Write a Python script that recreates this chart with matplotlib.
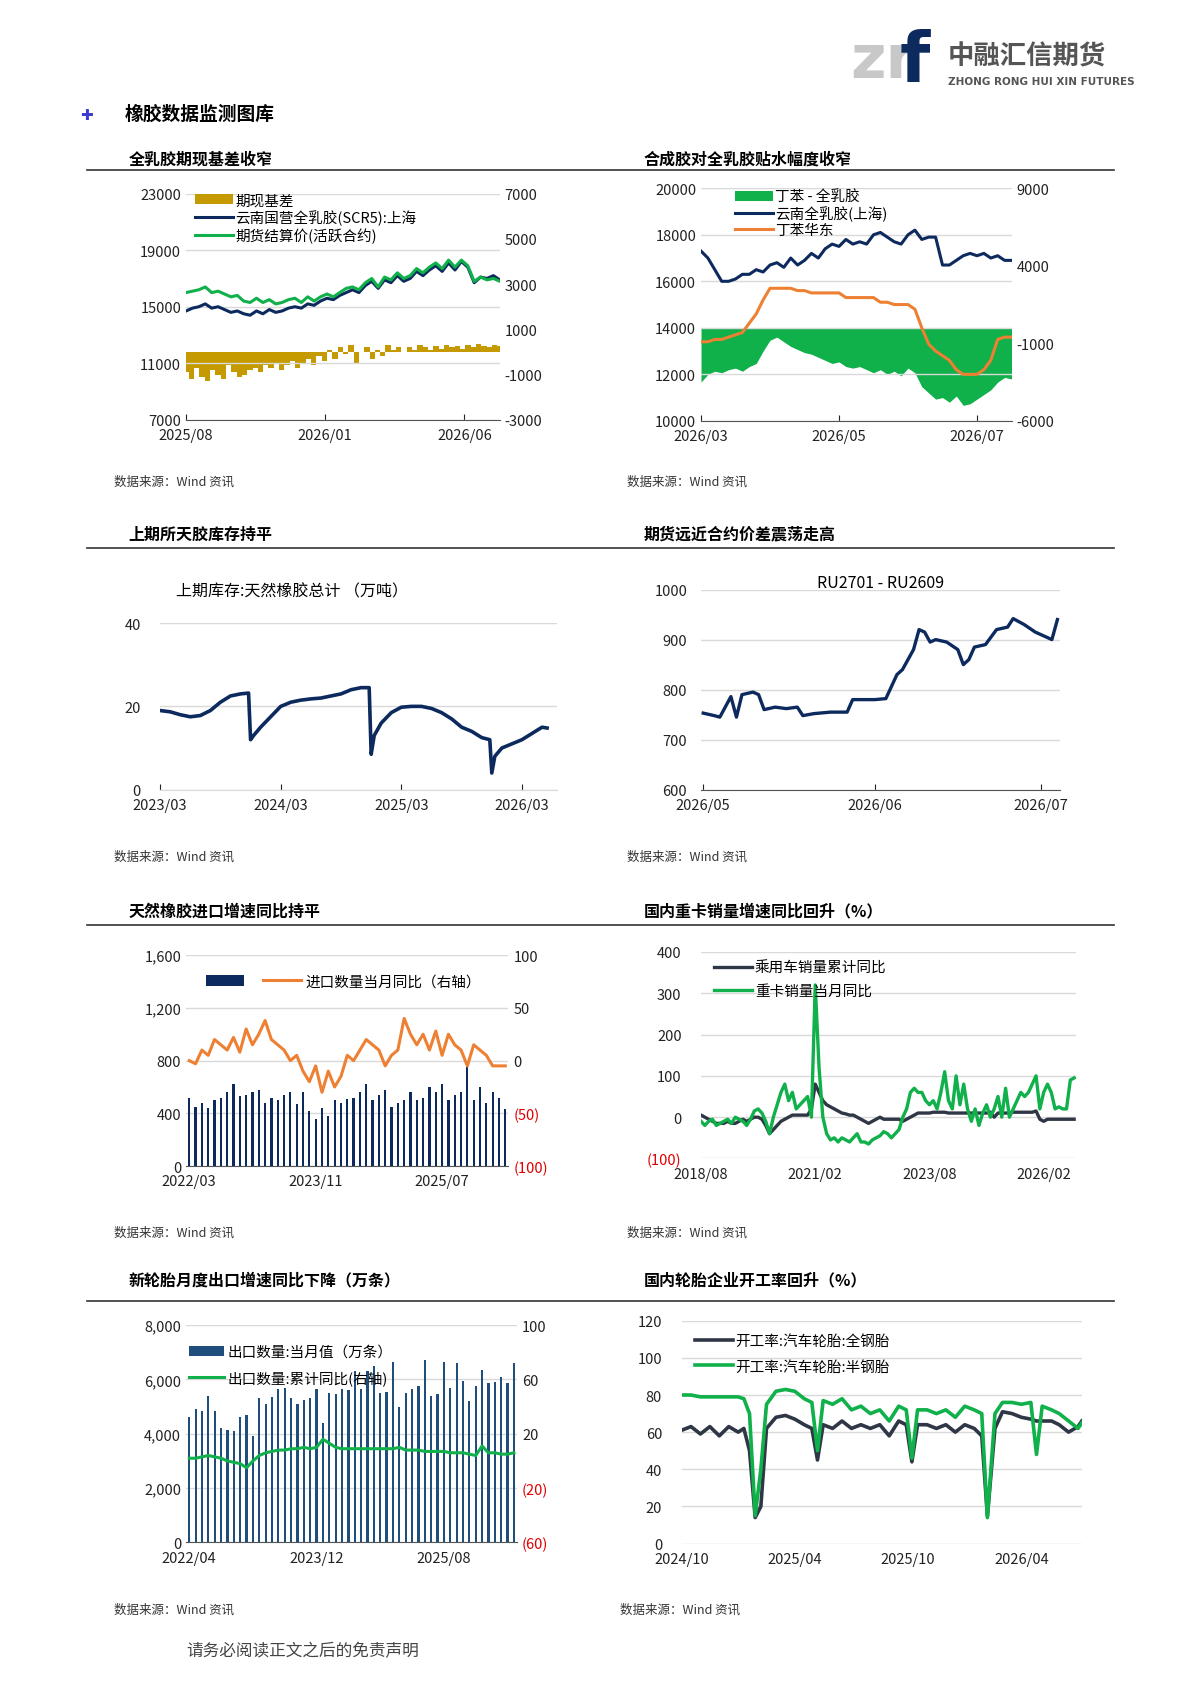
import numpy as np
import matplotlib
matplotlib.use("Agg")
import matplotlib.pyplot as plt
from matplotlib.ticker import FuncFormatter

plt.rcParams['font.family'] = ['Noto Sans CJK SC', 'DejaVu Sans']
plt.rcParams['axes.unicode_minus'] = False

NAVY = '#0d2a5e'; GREEN = '#10b04a'; GOLD = '#c49a00'; ORANGE = '#ee8033'; DARK = '#2f3645'; BAR = '#1f4e7d'

# ---------- data ----------
c1_scr5 = [14700,14900,15000,15200,14900,15000,14800,14600,14700,14500,14400,14700,14500,14800,14600,14700,14900,15000,14900,15200,15100,15400,15600,15500,15800,16000,16200,16000,16500,16800,16300,16900,16700,17200,16800,17000,17500,17200,17600,17900,17500,18100,17600,18200,17800,16700,17100,17000,17200,16900]
c1_fut = [16000,16100,16200,16400,16000,16100,15900,15700,15800,15400,15300,15600,15300,15500,15200,15300,15500,15600,15300,15700,15400,15700,15900,15700,16000,16300,16400,16200,16700,17000,16400,17100,16900,17400,17000,17200,17700,17400,17800,18100,17700,18300,17800,18300,17900,16800,17100,16900,17000,16800]
c1_basis = [-900,-1200,-700,-1100,-1300,-800,-1000,-1200,-600,-900,-1100,-1000,-800,-700,-900,-600,-700,-500,-800,-600,-400,-700,-500,-300,-600,-200,-400,100,-300,200,-100,300,-500,0,200,-300,100,-200,300,100,200,0,200,100,300,200,100,250,150,300,200,250,150,300,200,350,250,200,300,250]
c1_ticks = ['2025/08', '2026/01', '2026/06']

c2_blue = [17300,17000,16500,16000,16000,16100,16300,16300,16500,16400,16700,16800,16600,17000,16700,16900,17200,17000,17400,17600,17500,17800,17600,17700,17600,18000,18100,17900,17700,17600,18000,18200,17800,17900,17900,16700,16700,16900,17100,17200,17100,17200,17000,17100,16900,16900]
c2_orange = [13400,13400,13500,13500,13600,13700,13800,14200,14600,15200,15700,15700,15700,15700,15600,15600,15500,15500,15500,15500,15500,15300,15300,15300,15300,15300,15100,15100,15000,15000,15000,14800,14000,13300,13000,12800,12600,12200,12000,12000,12000,12200,12600,13500,13600,13600]
c2_spread = [-3500,-3000,-2800,-2900,-2700,-2600,-2800,-2500,-2300,-1500,-800,-600,-900,-1200,-1400,-1600,-1700,-1900,-2100,-2300,-2200,-2500,-2600,-2500,-2700,-2900,-2700,-3000,-2800,-3100,-2600,-2900,-3800,-4200,-4600,-4500,-4800,-4400,-5000,-4900,-4600,-4300,-4000,-3500,-3200,-3300]
c2_ticks = ['2026/03', '2026/05', '2026/07']

c3_month = [0,1,2,3,4,5,6,7,8,8.8,9.0,9.3,10,11,12,13,14,15,16,17,18,19,20,20.8,21.0,21.3,22,23,24,25,26,27,28,29,30,31,32,32.8,33.0,33.3,34,35,36,37,38,38.5]
c3_stock = [19,18.7,18,17.5,17.8,19,21,22.5,23,23.2,12,13,15,17.5,20,21,21.5,21.8,22,22.5,23,24,24.5,24.5,8.5,13,16,18.5,19.8,20,20,19.5,18.5,17,15,14,12.5,12,4,8,10,11,12,13.5,15,14.8]
c3_ticks = ['2023/03', '2024/03', '2025/03', '2026/03']

c4_day = [0,2,3,5,6,7,9,10,11,13,15,17,18,20,23,26,27,31,33,35,36,38,39,40,41,42,44,46,47,48,49,51,53,55,56,58,60,62,63,64]
c4_spread = [753,748,745,786,745,790,795,790,760,765,762,765,748,752,755,755,780,780,782,830,840,880,920,915,895,900,895,880,850,860,885,890,920,925,942,930,915,905,900,940]
c4_ticks = ['2026/05', '2026/06', '2026/07']

c5_import = [520,450,480,440,500,520,560,620,530,540,560,580,480,520,500,540,560,470,560,420,360,440,380,500,480,510,520,560,620,500,540,580,450,480,500,560,500,520,600,560,620,500,540,560,750,500,600,480,560,520,430]
c5_yoy = [0,-3,10,5,20,15,10,22,8,30,15,25,38,20,15,10,0,5,-10,-20,-5,-30,-10,-25,-15,5,0,10,20,15,10,-5,5,10,40,25,15,25,10,28,5,25,15,10,-5,15,10,5,-5,-5,-5]
c5_ticks = ['2022/03', '2023/11', '2025/07']

c6_car = [5,0,-5,-10,-15,-15,-15,-10,-15,-15,-10,-5,-10,-5,0,0,-5,
          -20,-40,-30,-20,-10,-5,0,5,5,5,5,5,
          20,80,60,40,30,25,20,15,10,8,5,5,
          0,-5,-10,-15,-10,-5,0,-5,-5,-5,-5,-5,
          -10,-5,0,5,10,10,10,10,12,12,12,12,
          10,10,10,10,10,10,10,10,10,10,10,12,
          0,10,10,10,10,12,12,12,12,12,12,15,
          -5,-10,-5,-5,-5,-5,-5,-5,-5,-5]
c6_truck = [-10,-20,-10,-5,-20,-15,-10,-5,-15,0,-5,-10,-20,-5,15,20,10,
            -10,-40,0,30,60,80,40,60,20,30,40,50,
            0,320,120,0,-40,-55,-50,-60,-50,-55,-60,-50,
            -40,-60,-60,-65,-55,-50,-45,-35,-40,-50,-40,-30,
            0,20,60,70,60,60,40,30,40,20,60,110,
            40,20,100,30,80,20,-10,20,-20,10,30,0,
            20,50,0,70,0,20,40,60,50,60,80,100,
            20,60,80,60,20,25,20,20,90,95]
c6_ticks = ['2018/08', '2021/02', '2023/08', '2026/02']

c7_export = [4600,4900,4850,5400,4850,4200,4150,4100,4600,4700,3900,5300,5100,5350,5650,5700,5300,5100,5250,5300,5650,4400,5500,5450,5650,5600,6300,5650,6300,6500,5500,5550,6650,5000,5500,5650,5750,6700,5400,5450,6650,5700,6600,5950,5200,5750,6350,5850,5900,6100,5850,6600]
c7_yoy = [2,2,3,4,3,2,0,-1,-2,-5,0,4,6,7,8,8,9,9,10,9,10,16,13,10,9,9,9,9,9,9,9,9,9,10,8,8,8,7,7,7,7,6,6,6,5,4,11,6,6,5,5,6]
c7_ticks = ['2022/04', '2023/12', '2025/08']

c8_month = [0,0.5,1,1.5,2,2.5,3,3.3,3.6,3.9,4.2,4.5,5,5.5,6,6.5,6.9,7.2,7.5,8,8.5,9,9.5,10,10.5,11,11.5,11.9,12.2,12.5,13,13.5,14,14.5,15,15.5,15.9,16.2,16.6,17,17.5,18,18.5,18.8,19.1,19.6,20,20.5,21,21.2]
c8_semi = [80,80,79,79,79,79,79,78,70,15,40,75,82,83,82,78,76,50,77,75,78,72,74,70,72,66,74,72,46,72,72,70,72,68,74,72,70,14,70,76,76,75,76,48,74,72,70,66,62,65]
c8_full = [61,63,59,63,58,63,60,62,50,14,20,62,68,69,67,64,62,45,64,62,66,62,64,62,64,58,66,64,44,64,64,62,64,60,64,62,58,15,62,71,70,68,67,66,66,66,64,60,63,66]
c8_ticks = ['2024/10', '2025/04', '2025/10', '2026/04']

# ---------- layout helpers ----------
W, H = 1100, 1556
fig = plt.figure(figsize=(11.9, 16.83), dpi=100)

def box(x0, y0, x1, y1):
    return fig.add_axes([x0 / W, 1 - y1 / H, (x1 - x0) / W, (y1 - y0) / H])

def txt(x, y, s, **kw):
    fig.text(x / W, 1 - y / H, s, **kw)

def style(ax, grid=True):
    for s in ['top', 'right', 'left']:
        ax.spines[s].set_visible(False)
    ax.spines['bottom'].set_color('#555555')
    ax.tick_params(axis='both', labelsize=10.5, length=0, colors='#222222')
    ax.tick_params(axis='x', length=4, direction='in', pad=6)
    if grid:
        ax.yaxis.grid(True, color='#d9d9d9', lw=1)
    ax.set_axisbelow(True)

def rstyle(ax):
    for s in ax.spines.values():
        s.set_visible(False)
    ax.tick_params(axis='y', labelsize=10.5, length=0, colors='#222222')

comma = FuncFormatter(lambda v, p: f'{v:,.0f}')
def paren(v, p):
    return f'({abs(v):,.0f})' if v < 0 else f'{v:,.0f}'

# ---------- header ----------
txt(786, 72, 'zr', fontsize=44, color='#c8c8c8', fontweight='bold', family='DejaVu Sans')
txt(832, 76, 'f', fontsize=50, color=NAVY, fontweight='bold', family='DejaVu Sans')
txt(876, 60, '中融汇信期货', fontsize=19, color='#555555', fontweight='bold')
txt(876, 79, 'ZHONG RONG HUI XIN FUTURES', fontsize=7.5, color='#555555', fontweight='bold', family='DejaVu Sans')
txt(74, 111, '✚', fontsize=11, color='#3a3ad0', family='DejaVu Sans')
txt(115, 111, '橡胶数据监测图库', fontsize=13.5, fontweight='bold')

for y in [158, 508, 856, 1204]:
    fig.add_artist(plt.Line2D([80 / W, 1030 / W], [1 - y / H] * 2, color='#333333', lw=1.2))
titles = [(119, 152, '全乳胶期现基差收窄'), (595, 152, '合成胶对全乳胶贴水幅度收窄'),
          (119, 499, '上期所天胶库存持平'), (595, 499, '期货远近合约价差震荡走高'),
          (119, 847, '天然橡胶进口增速同比持平'), (595, 847, '国内重卡销量增速同比回升（%）'),
          (119, 1188, '新轮胎月度出口增速同比下降（万条）'), (595, 1188, '国内轮胎企业开工率回升（%）')]
for x, y, s in titles:
    txt(x, y, s, fontsize=11.5, fontweight='bold')
for x, y in [(105, 449), (580, 449), (105, 796), (580, 796), (105, 1143), (580, 1143), (105, 1492), (573, 1492)]:
    txt(x, y, '数据来源：Wind 资讯', fontsize=9, color='#333333')
txt(172, 1531, '请务必阅读正文之后的免责声明', fontsize=12, color='#444444')

# ---------- chart 1 ----------
ax = box(172, 180, 462, 389)
style(ax)
x1 = np.arange(len(c1_scr5)) * 0.23
xb = np.arange(len(c1_basis)) * (x1[-1] / (len(c1_basis) - 1))
ax.set_ylim(7000, 23000); ax.set_yticks([7000, 11000, 15000, 19000, 23000])
ax.set_xlim(0, x1[-1]); ax.set_xticks([0, 5, 10]); ax.set_xticklabels(c1_ticks)
ax2 = ax.twinx(); rstyle(ax2)
ax2.bar(xb, c1_basis, width=xb[1] - xb[0], color=GOLD, label='期现基差', zorder=1)
ax2.set_ylim(-3000, 7000); ax2.set_yticks([-3000, -1000, 1000, 3000, 5000, 7000])
ax.set_zorder(ax2.get_zorder() + 1); ax.patch.set_visible(False)
l1, = ax.plot(x1, c1_scr5, color=NAVY, lw=2.2, label='云南国营全乳胶(SCR5):上海')
l2, = ax.plot(x1, c1_fut, color=GREEN, lw=2.2, label='期货结算价(活跃合约)')
h, l = ax2.get_legend_handles_labels()
ax.legend(h + [l1, l2], l + [l1.get_label(), l2.get_label()], loc='upper left', bbox_to_anchor=(0, 1.04),
          frameon=False, fontsize=10.5, handlelength=2.6, labelspacing=0.15, borderaxespad=0.2, handletextpad=0.2)

# ---------- chart 2 ----------
ax = box(648, 175, 935, 390)
style(ax)
x2 = np.arange(len(c2_blue)) * 0.1
ax.set_ylim(10000, 20000); ax.set_yticks(range(10000, 20001, 2000))
ax.set_xlim(0, x2[-1]); ax.set_xticks([0, 2, 4]); ax.set_xticklabels(c2_ticks)
ax2 = ax.twinx(); rstyle(ax2)
ax2.fill_between(x2, 0, c2_spread, color=GREEN, lw=0, label='丁苯 - 全乳胶')
ax2.set_ylim(-6000, 9000); ax2.set_yticks([-6000, -1000, 4000, 9000])
ax.set_zorder(ax2.get_zorder() + 1); ax.patch.set_visible(False)
l1, = ax.plot(x2, c2_blue, color=NAVY, lw=2.2, label='云南全乳胶(上海)')
l3, = ax.plot(x2, c2_orange, color=ORANGE, lw=2.2, label='丁苯华东')
h, l = ax2.get_legend_handles_labels()
ax.legend(h + [l1, l3], l + [l1.get_label(), l3.get_label()], loc='upper left', bbox_to_anchor=(0.08, 1.03),
          frameon=False, fontsize=10.5, handlelength=2.6, labelspacing=0.1, borderaxespad=0.2, handletextpad=0.2)

# ---------- chart 3 ----------
ax = box(148, 577, 515, 731)
style(ax)
ax.plot(c3_month, c3_stock, color=NAVY, lw=2.6)
ax.set_ylim(0, 40); ax.set_yticks([0, 20, 40])
ax.set_xlim(0, 39.5); ax.set_xticks([0, 12, 24, 36]); ax.set_xticklabels(c3_ticks)
ax.tick_params(axis='y', pad=14)
ax.spines['bottom'].set_color('#d9d9d9')
txt(163, 551, '上期库存:天然橡胶总计 （万吨）', fontsize=11.5)

# ---------- chart 4 ----------
ax = box(648, 546, 980, 731)
style(ax)
ax.plot(c4_day, c4_spread, color=NAVY, lw=2.4)
ax.set_ylim(600, 1000); ax.set_yticks(range(600, 1001, 100))
ax.set_xlim(-0.4, 64.5); ax.set_xticks([0, 31, 61]); ax.set_xticklabels(c4_ticks)
ax.set_title('RU2701 - RU2609', fontsize=11.5, y=0.97)
ax.tick_params(axis='y', pad=10)

# ---------- chart 5 ----------
ax = box(172, 884, 470, 1079)
style(ax)
x5 = np.arange(len(c5_import))
ax.bar(x5, c5_import, width=0.35, color=NAVY, label=' ')
ax.set_ylim(0, 1600); ax.set_yticks(range(0, 1601, 400)); ax.yaxis.set_major_formatter(comma)
ax.set_xlim(-0.5, len(x5) - 0.5); ax.set_xticks([0, 20, 40]); ax.set_xticklabels(c5_ticks)
ax2 = ax.twinx(); rstyle(ax2)
ax2.plot(x5, c5_yoy, color=ORANGE, lw=2.2, label='进口数量当月同比（右轴）')
ax2.set_ylim(-100, 100); ax2.set_yticks([-100, -50, 0, 50, 100])
ax2.yaxis.set_major_formatter(FuncFormatter(paren))
for t, v in zip(ax2.get_yticklabels(), [-100, -50, 0, 50, 100]):
    if v < 0: t.set_color('#e00000')
h1, l1_ = ax.get_legend_handles_labels(); h2, l2_ = ax2.get_legend_handles_labels()
ax2.legend(h1 + h2, l1_ + l2_, loc='upper left', bbox_to_anchor=(0.02, 0.97), ncol=2, frameon=False,
           fontsize=10.5, handlelength=2.6, columnspacing=0.8, handletextpad=0.3)

# ---------- chart 6 ----------
ax = box(648, 881, 995, 1072)
style(ax)
x6 = 2018 + 7 / 12 + np.arange(len(c6_car)) / 12
ax.plot(x6, c6_car, color=DARK, lw=2.4, label='乘用车销量累计同比')
ax.plot(x6, c6_truck, color=GREEN, lw=2.4, label='重卡销量当月同比')
ax.set_ylim(-100, 400); ax.set_yticks(range(-100, 401, 100))
ax.yaxis.set_major_formatter(FuncFormatter(paren))
for t in ax.get_yticklabels():
    if t.get_text().startswith('('): t.set_color('#e00000')
xt = [2018 + 7 / 12, 2021 + 1 / 12, 2023 + 7 / 12, 2026 + 1 / 12]
ax.set_xlim(x6[0], x6[-1] + 0.05); ax.set_xticks(xt); ax.set_xticklabels(c6_ticks)
ax.spines['bottom'].set_visible(False); ax.tick_params(axis='x', length=0)
ax.legend(loc='upper left', bbox_to_anchor=(0.0, 1.02), frameon=False, fontsize=10.5, handlelength=2.6,
          labelspacing=0.6, handletextpad=0.2)
ax.tick_params(axis='y', pad=14)

# ---------- chart 7 ----------
ax = box(172, 1226, 478, 1427)
style(ax)
x7 = np.arange(len(c7_export))
ax.bar(x7, c7_export, width=0.35, color=BAR, label='出口数量:当月值（万条）')
ax.set_ylim(0, 8000); ax.set_yticks(range(0, 8001, 2000)); ax.yaxis.set_major_formatter(comma)
ax.set_xlim(-0.5, len(x7) - 0.5); ax.set_xticks([0, 20, 40]); ax.set_xticklabels(c7_ticks)
ax2 = ax.twinx(); rstyle(ax2)
ax2.plot(x7, c7_yoy, color=GREEN, lw=2.2, label='出口数量:累计同比(右轴)')
ax2.set_ylim(-60, 100); ax2.set_yticks([-60, -20, 20, 60, 100])
ax2.yaxis.set_major_formatter(FuncFormatter(paren))
for t, v in zip(ax2.get_yticklabels(), [-60, -20, 20, 60, 100]):
    if v < 0: t.set_color('#e00000')
h1, l1_ = ax.get_legend_handles_labels(); h2, l2_ = ax2.get_legend_handles_labels()
ax2.legend(h1 + h2, l1_ + l2_, loc='upper left', bbox_to_anchor=(-0.03, 0.97), frameon=False,
           fontsize=10.5, handlelength=2.4, labelspacing=0.8, handletextpad=0.2)

# ---------- chart 8 ----------
ax = box(630, 1222, 1000, 1428)
style(ax)
ax.plot(c8_month, c8_full, color=DARK, lw=2.6, label='开工率:汽车轮胎:全钢胎')
ax.plot(c8_month, c8_semi, color=GREEN, lw=2.6, label='开工率:汽车轮胎:半钢胎')
ax.set_ylim(0, 120); ax.set_yticks(range(0, 121, 20))
ax.set_xlim(0, 21.2); ax.set_xticks([0, 6, 12, 18]); ax.set_xticklabels(c8_ticks)
ax.spines['bottom'].set_visible(False); ax.tick_params(axis='x', length=0)
ax.legend(loc='upper left', bbox_to_anchor=(0.0, 1.0), frameon=False, fontsize=10.5, handlelength=2.6,
          labelspacing=0.8, handletextpad=0.2)
ax.tick_params(axis='y', pad=14)

fig.savefig('out.png', dpi=100)
